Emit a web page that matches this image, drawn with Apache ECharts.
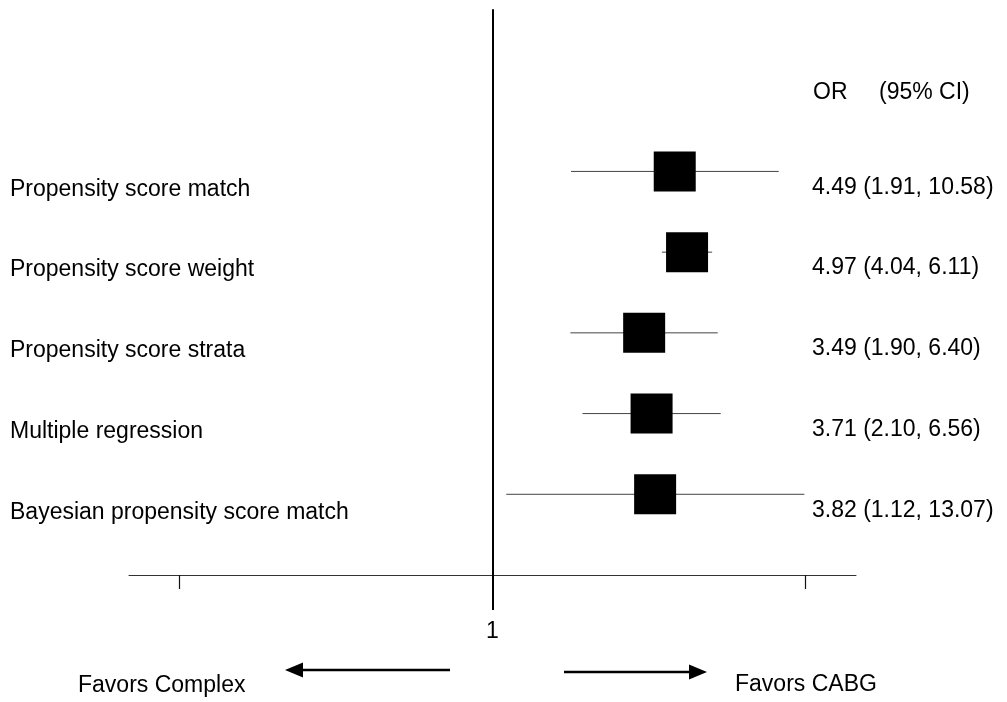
<!DOCTYPE html>
<html>
<head>
<meta charset="utf-8">
<script src="https://cdn.jsdelivr.net/npm/echarts@6/dist/echarts.min.js"></script>
<style>
html,body{margin:0;padding:0;background:#fff;}
#chart{width:1007px;height:702px;}
</style>
</head>
<body>
<div id="chart"></div>
<script>
// ---- data ----
const methods = [
  'Propensity score match',
  'Propensity score weight',
  'Propensity score strata',
  'Multiple regression',
  'Bayesian propensity score match'
];
const orValues = [4.49, 4.97, 3.49, 3.71, 3.82];
const ciLower  = [1.91, 4.04, 1.90, 2.10, 1.12];
const ciUpper  = [10.58, 6.11, 6.40, 6.56, 13.07];
const axisRangeOR = [0.05, 20];
const sideTickOR = [1 / 13.2, 13.2];
const refOR = [1];

const FONT = '"Liberation Sans", Arial, Helvetica, sans-serif';
const ln = Math.log;

const seriesData = methods.map((m, i) => [ln(orValues[i]), i, ln(ciLower[i]), ln(ciUpper[i])]);

const chart = echarts.init(document.getElementById('chart'), null, {renderer: 'canvas'});

const xBase = {
  type: 'value',
  gridIndex: 0,
  min: ln(axisRangeOR[0]),
  max: ln(axisRangeOR[1]),
  position: 'bottom',
  splitLine: {show: false}
};

chart.setOption({
  animation: false,
  backgroundColor: '#fff',
  grid: {left: 129, right: 151, top: 10, bottom: 127, containLabel: false},
  xAxis: [
    Object.assign({}, xBase, {
      axisLine: {show: true, onZero: false, lineStyle: {color: '#333', width: 1}},
      axisTick: {show: true, inside: false, length: 14, customValues: sideTickOR.map(ln), lineStyle: {color: '#111', width: 1.2}},
      axisLabel: {show: false}
    }),
    Object.assign({}, xBase, {
      axisLine: {show: false, onZero: false},
      axisTick: {show: true, length: 35, customValues: refOR.map(ln), lineStyle: {color: '#000', width: 2}},
      axisLabel: {
        show: true, margin: 45, customValues: refOR.map(ln),
        formatter: v => String(Math.round(Math.exp(v))),
        fontSize: 23, color: '#000', fontFamily: FONT
      }
    })
  ],
  yAxis: {
    type: 'value',
    inverse: true,
    min: -2,
    max: 5,
    axisLine: {show: true, onZero: true, lineStyle: {color: '#000', width: 2}},
    axisTick: {show: false},
    axisLabel: {show: false},
    splitLine: {show: false}
  },
  series: [{
    type: 'custom',
    xAxisIndex: 0,
    yAxisIndex: 0,
    clip: false,
    encode: {x: [0, 2, 3], y: 1},
    data: seriesData,
    renderItem: (params, api) => {
      const i = params.dataIndex;
      const row = api.value(1);
      const pC = api.coord([api.value(0), row]);
      const pL = api.coord([api.value(2), row]);
      const pH = api.coord([api.value(3), row]);
      const label = orValues[i].toFixed(2) + ' (' + ciLower[i].toFixed(2) + ', ' + ciUpper[i].toFixed(2) + ')';
      return {
        type: 'group',
        children: [
          {type: 'line', shape: {x1: pL[0], y1: pL[1], x2: pH[0], y2: pH[1]},
           style: {stroke: '#444', lineWidth: 1}},
          {type: 'rect', shape: {x: pC[0] - 21, y: pC[1] - 20, width: 42, height: 40},
           style: {fill: '#000'}},
          {type: 'text', x: 10, y: pC[1] + 18,
           style: {text: methods[i], fontSize: 23, fontFamily: FONT, fill: '#000', align: 'left', verticalAlign: 'middle'}},
          {type: 'text', x: 812, y: pC[1] + 16,
           style: {text: label, fontSize: 23, fontFamily: FONT, fill: '#000', align: 'left', verticalAlign: 'middle'}}
        ]
      };
    }
  }],
  graphic: [
    {type: 'text', left: 813, top: 81, style: {text: 'OR', fontSize: 23, fontFamily: FONT, fill: '#000'}},
    {type: 'text', left: 879, top: 81, style: {text: '(95% CI)', fontSize: 23, fontFamily: FONT, fill: '#000'}},
    {type: 'text', left: 78, top: 674, style: {text: 'Favors Complex', fontSize: 23, fontFamily: FONT, fill: '#000'}},
    {type: 'text', left: 735, top: 673, style: {text: 'Favors CABG', fontSize: 23, fontFamily: FONT, fill: '#000'}},
    {type: 'line', shape: {x1: 450, y1: 670, x2: 300, y2: 670}, style: {stroke: '#000', lineWidth: 2.5}},
    {type: 'polygon', shape: {points: [[285, 670], [303, 662.5], [303, 677.5]]}, style: {fill: '#000'}},
    {type: 'line', shape: {x1: 564, y1: 672, x2: 692, y2: 672}, style: {stroke: '#000', lineWidth: 2.5}},
    {type: 'polygon', shape: {points: [[707, 672], [689, 664.5], [689, 679.5]]}, style: {fill: '#000'}}
  ]
});
</script>
</body>
</html>
